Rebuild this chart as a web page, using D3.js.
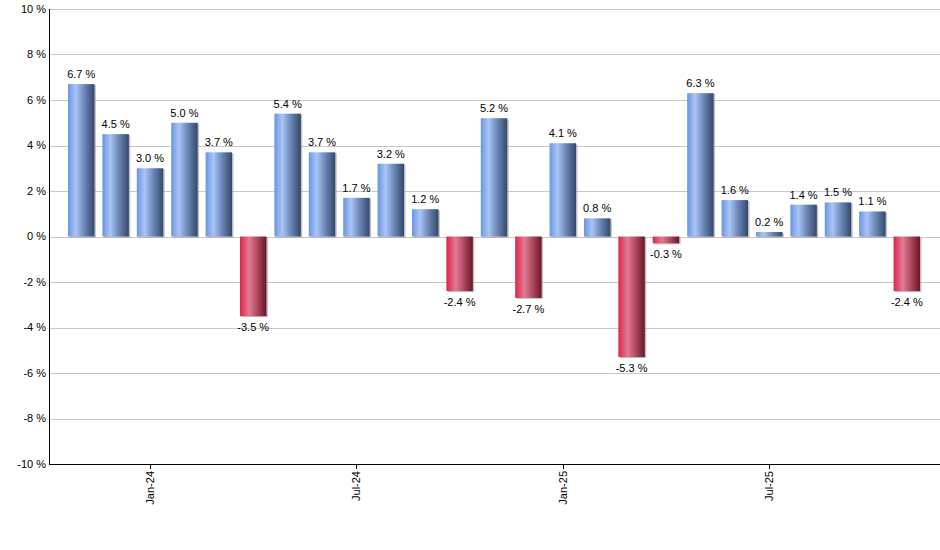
<!DOCTYPE html>
<html>
<head>
<meta charset="utf-8">
<script src="https://cdn.jsdelivr.net/npm/d3@7"></script>
<style>
  body { margin: 0; background: #fff; }
  text { font-family: "Liberation Sans", Arial, sans-serif; font-size: 11px; fill: #000; }
</style>
</head>
<body>
<div id="chart"></div>
<script>
var months = ['Nov-23', 'Dec-23', 'Jan-24', 'Feb-24', 'Mar-24', 'Apr-24', 'May-24', 'Jun-24', 'Jul-24',
  'Aug-24', 'Sep-24', 'Oct-24', 'Nov-24', 'Dec-24', 'Jan-25', 'Feb-25', 'Mar-25', 'Apr-25', 'May-25',
  'Jun-25', 'Jul-25', 'Aug-25', 'Sep-25', 'Oct-25', 'Nov-25']
var changes = [6.7, 4.5, 3.0, 5.0, 3.7, -3.5, 5.4, 3.7, 1.7, 3.2, 1.2, -2.4, 5.2, -2.7, 4.1, 0.8,
  -5.3, -0.3, 6.3, 1.6, 0.2, 1.4, 1.5, 1.1, -2.4]
var tickMonths = ['Jan-24', 'Jul-24', 'Jan-25', 'Jul-25']
var yTicks = [-10, -8, -6, -4, -2, 0, 2, 4, 6, 8, 10]

var margin = { top: 9, left: 49, right: 0, bottom: 86 }
var width = 940 - margin.left - margin.right
var height = 550 - margin.top - margin.bottom

var data = months.map((m, i) => ({ month: m, value: changes[i] }))

var svg = d3.select('#chart')
  .append('svg')
  .attr('width', 940)
  .attr('height', 550)

var defs = svg.append('defs')

function gradient(id, stops) {
  var g = defs.append('linearGradient').attr('id', id)
    .attr('x1', '0%').attr('x2', '100%').attr('y1', '0%').attr('y2', '0%')
  stops.forEach(s => g.append('stop').attr('offset', s[0]).attr('stop-color', s[1]))
}
gradient('blueGrad', [['0%', '#6a95e4'], ['30%', '#a9c5f5'], ['60%', '#6f8bbb'], ['100%', '#334769']])
gradient('redGrad', [['0%', '#e0244c'], ['35%', '#e07b92'], ['65%', '#b04a60'], ['100%', '#681626']])

var g = svg.append('g')
  .attr('transform', 'translate(' + margin.left + ',' + margin.top + ')')

// bars sit between 19px from the y axis and 20px before the right edge
var x = d3.scaleBand()
  .domain(months)
  .range([19, width - 20])
  .paddingInner(0.231)
  .paddingOuter(0)

var y = d3.scaleLinear()
  .domain([-10, 10])
  .range([height, 0])

// gridlines
g.selectAll('.grid')
  .data(yTicks)
  .enter().append('line')
  .attr('x1', 0)
  .attr('x2', width)
  .attr('y1', d => Math.round(y(d)) + 0.5)
  .attr('y2', d => Math.round(y(d)) + 0.5)
  .attr('stroke', '#c8c8c8')
  .attr('stroke-width', 1)

// y labels
g.selectAll('.ylab')
  .data(yTicks)
  .enter().append('text')
  .attr('x', -3)
  .attr('y', d => y(d))
  .attr('dy', '0.35em')
  .attr('text-anchor', 'end')
  .text(d => d + ' %')

// bar shadows
g.selectAll('.shadow')
  .data(data)
  .enter().append('rect')
  .attr('x', d => x(d.month) + 1.5)
  .attr('y', d => Math.min(y(d.value), y(0)) + 1)
  .attr('width', x.bandwidth())
  .attr('height', d => Math.abs(y(d.value) - y(0)))
  .attr('fill', '#9a9a9a')
  .attr('opacity', 0.6)

// bars
g.selectAll('.bar')
  .data(data)
  .enter().append('rect')
  .attr('x', d => x(d.month))
  .attr('y', d => Math.min(y(d.value), y(0)))
  .attr('width', x.bandwidth())
  .attr('height', d => Math.abs(y(d.value) - y(0)))
  .attr('fill', d => d.value >= 0 ? 'url(#blueGrad)' : 'url(#redGrad)')

// value labels
g.selectAll('.vlab')
  .data(data)
  .enter().append('text')
  .attr('x', d => x(d.month) + x.bandwidth() / 2)
  .attr('y', d => d.value >= 0 ? y(d.value) - 6 : y(d.value) + 15)
  .attr('text-anchor', 'middle')
  .text(d => d.value.toFixed(1) + ' %')

// axes lines
g.append('line')
  .attr('x1', 0.5).attr('x2', 0.5)
  .attr('y1', 0).attr('y2', height)
  .attr('stroke', '#000')
g.append('line')
  .attr('x1', 0).attr('x2', width)
  .attr('y1', height + 0.5).attr('y2', height + 0.5)
  .attr('stroke', '#000')

// x ticks
var xt = g.selectAll('.xtick')
  .data(tickMonths)
  .enter().append('g')
  .attr('transform', d => 'translate(' + (Math.round(x(d) + x.bandwidth() / 2) + 0.5) + ',' + height + ')')
xt.append('line')
  .attr('y1', 0).attr('y2', 5)
  .attr('stroke', '#000')
xt.append('text')
  .attr('transform', 'rotate(-90)')
  .attr('x', -7)
  .attr('y', 0)
  .attr('dy', '0.35em')
  .attr('text-anchor', 'end')
  .text(d => d)
</script>
</body>
</html>
